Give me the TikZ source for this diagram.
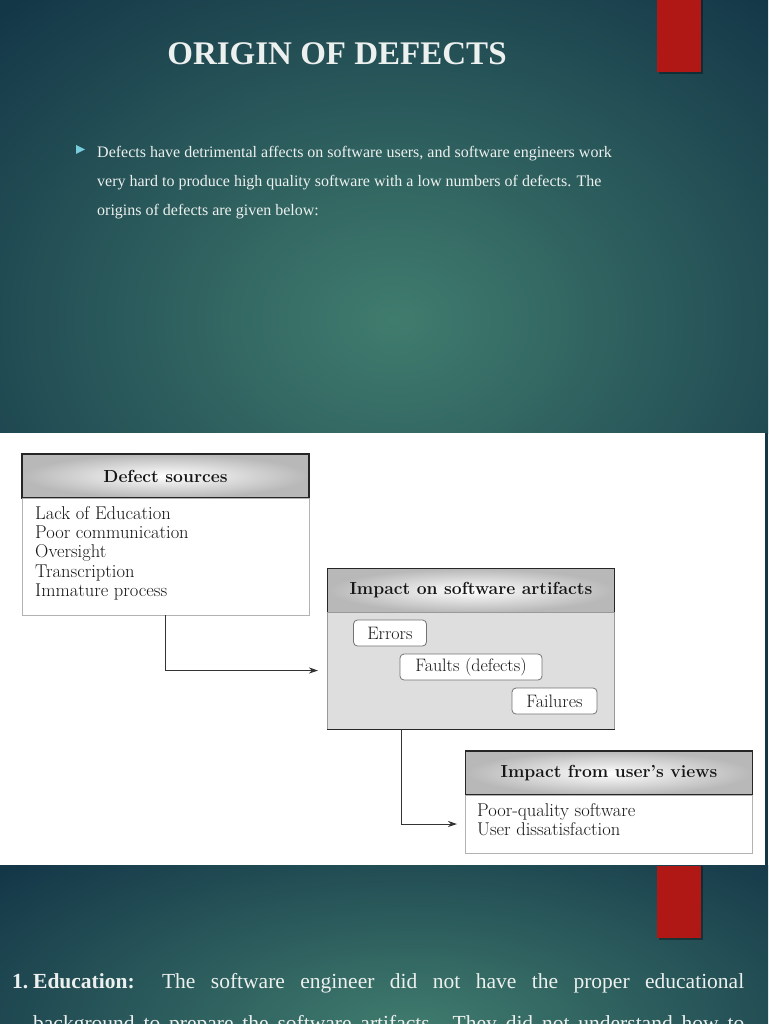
\documentclass[tikz,border=0pt]{standalone}
\usepackage{fontspec}
\newfontfamily\slidefont{Liberation Serif}
\usetikzlibrary{arrows.meta}
\definecolor{tealLight}{RGB}{64,124,110}
\definecolor{tealDark}{RGB}{20,55,72}
\definecolor{barRed}{RGB}{176,24,22}
\definecolor{slideText}{RGB}{236,240,238}
\definecolor{bulletCyan}{RGB}{120,205,220}
\definecolor{inkGray}{RGB}{22,22,22}
\definecolor{artGray}{RGB}{222,222,222}
\begin{document}
\begin{tikzpicture}[x=1pt,y=-1pt,
  hdr/.style={draw=black!85, line width=1.5pt, inner color=white, outer color=black!28,
    minimum width=287pt, minimum height=44pt, inner sep=0pt, text=inkGray,
    font=\fontsize{17.5}{17.5}\selectfont\bfseries},
  bodybox/.style={draw=black!30, line width=1pt, fill=white, minimum width=287pt, inner sep=0pt},
  tile/.style={draw=black!55, line width=0.8pt, fill=white, rounded corners=4pt, inner sep=0pt,
    minimum height=26pt, text=inkGray, font=\fontsize{18}{18}\selectfont},
  listtxt/.style={anchor=north west, inner sep=0pt, align=left, text=inkGray,
    font=\fontsize{18.5}{19.4}\selectfont},
  slidetxt/.style={anchor=base west, inner sep=0pt, text=slideText, font=\slidefont\fontsize{16}{16}\selectfont},
  arr/.style={draw=black!80, line width=1pt, -{Stealth[length=9pt,width=6pt]}},
  redbar/.style={fill=barRed},
  barshadow/.style={fill=black, opacity=0.35}
]
\useasboundingbox (0,0) rectangle (768,1024);
\clip (0,0) rectangle (768,1024);
% ---------- top slide ----------
\begin{scope}
  \clip (0,0) rectangle (768,433);
  \fill[tealDark] (0,0) rectangle (768,433);
  \shade[inner color=tealLight, outer color=tealDark] (395,320) ellipse (560pt and 430pt);
\end{scope}
\fill[barshadow] (659,0) rectangle (703,74);
\fill[redbar] (657,0) rectangle (701,72);
\node[anchor=base, inner sep=0pt, text=slideText, font=\slidefont\fontsize{33}{33}\selectfont\bfseries] (title) at (337,65) {ORIGIN OF DEFECTS};
\fill[bulletCyan] (76,145) -- (85,149.5) -- (76,154) -- cycle;
\node[slidetxt] (l1) at (97,158) {Defects have detrimental affects on software users, and software engineers work};
\node[slidetxt] (l2) at (97,187) {very hard to produce high quality software with a low numbers of defects. The};
\node[slidetxt] (l3) at (97,215) {origins of defects are given below:};
% ---------- white diagram area ----------
\fill[white] (0,433) rectangle (765,865);
\fill[tealDark] (765,433) rectangle (768,865);
% box 1
\node[hdr] (h1) at (165.5,476) {Defect sources};
\node[bodybox, minimum height=117pt] (b1) at (165.5,556.5) {};
\node[listtxt] (t1) at (35,506) {Lack of Education\\Poor communication\\Oversight\\Transcription\\Immature process};
% box 2
\node[hdr] (h2) at (471,590.5) {Impact on software artifacts};
\node[bodybox, fill=artGray, draw=black!40, minimum height=117pt] (b2) at (471,670.5) {};
\draw[black!85, line width=1.5pt] (b2.south west) -- (b2.south east);
\node[tile, minimum width=73pt] (e1) at (390,633) {Errors};
\node[tile, minimum width=142pt] (e2) at (471,667) {Faults (defects)};
\node[tile, minimum width=85pt] (e3) at (554.5,701) {Failures};
% box 3
\node[hdr] (h3) at (609,773) {Impact from user's views};
\node[bodybox, minimum height=58pt] (b3) at (609,824) {};
\node[listtxt] (t3) at (477,803) {Poor-quality software\\User dissatisfaction};
% connectors
\coordinate (a1) at (165,615);
\coordinate (a2) at (401,729);
\draw[arr, shorten >=9pt] (a1) |- (b2.west);
\draw[arr, shorten >=8pt] (a2) |- (b3.west);
% ---------- bottom slide ----------
\begin{scope}
  \clip (0,865) rectangle (768,1024);
  \fill[tealDark] (0,865) rectangle (768,1024);
  \shade[inner color=tealLight, outer color=tealDark] (410,1030) ellipse (540pt and 240pt);
\end{scope}
\fill[barshadow] (659,866) rectangle (703,940);
\fill[redbar] (657,866) rectangle (701,938);
\node[anchor=base west, inner sep=0pt, text=slideText, font=\slidefont\fontsize{21.5}{21.5}\selectfont\bfseries] (n1) at (12,988) {1.};
\node[anchor=base west, inner sep=0pt, text=slideText, font=\slidefont\fontsize{21.5}{21.5}\selectfont] (p1) at (33,988)
  {\makebox[711pt][s]{\textbf{Education:} The software engineer did not have the proper educational}};
\node[anchor=base west, inner sep=0pt, text=slideText, font=\slidefont\fontsize{21.5}{21.5}\selectfont] (p2) at (33,1030)
  {\makebox[711pt][s]{background to prepare the software artifacts. They did not understand how to}};
\end{tikzpicture}
\end{document}
